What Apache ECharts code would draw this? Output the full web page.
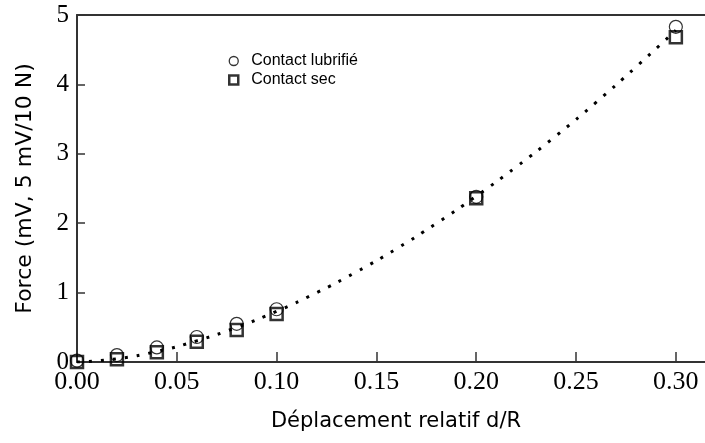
<!DOCTYPE html>
<html>
<head>
<meta charset="utf-8">
<script src="https://cdn.jsdelivr.net/npm/echarts@6/dist/echarts.min.js"></script>
<style>
html,body{margin:0;padding:0;background:#fff;}
#chart{width:705px;height:443px;}
</style>
</head>
<body>
<div id="chart"></div>
<script>
// Data
var dispX = [0, 0.02, 0.04, 0.06, 0.08, 0.10, 0.20, 0.30];
var forceLubrifie = [0.02, 0.10, 0.21, 0.36, 0.55, 0.76, 2.38, 4.83];
var forceSec = [0.00, 0.04, 0.14, 0.29, 0.46, 0.69, 2.36, 4.68];
var curveX = [0, 0.02, 0.04, 0.06, 0.08, 0.10, 0.12, 0.14, 0.16, 0.18, 0.20, 0.22, 0.24, 0.26, 0.28, 0.30];
var curveY = [0, 0.047, 0.152, 0.305, 0.499, 0.730, 0.998, 1.299, 1.631, 1.996, 2.39, 2.81, 3.26, 3.74, 4.25, 4.78];
var xTicks = [0, 0.05, 0.10, 0.15, 0.20, 0.25, 0.30];
var yTicks = [0, 1, 2, 3, 4, 5];
var seriesNames = ['Contact lubrifié', 'Contact sec'];
var xName = 'Déplacement relatif d/R';
var yName = 'Force (mV, 5 mV/10 N)';

function pairs(xs, ys){ return xs.map(function(x,i){ return [x, ys[i]]; }); }

var chart = echarts.init(document.getElementById('chart'), null, {renderer:'canvas'});
var axisCol = '#333';
var option = {
  animation: false,
  backgroundColor: '#fff',
  grid: {left: 77, right: 0, top: 15, bottom: 81, containLabel: false},
  legend: {
    orient: 'vertical', left: 228, top: 53, itemGap: 3, padding: 0,
    itemWidth: 9, itemHeight: 9,
    textStyle: {fontFamily: 'Liberation Sans', fontSize: 16, lineHeight: 16, color: '#000', padding: [0, 0, 0, 8]},
    data: [
      {name: seriesNames[0], icon: 'circle', itemStyle: {color: '#fff', borderColor: '#000', borderWidth: 1.3}},
      {name: seriesNames[1], icon: 'rect', itemStyle: {color: '#fff', borderColor: '#000', borderWidth: 2.5}}
    ]
  },
  xAxis: [{
    type: 'value', min: 0, max: 0.3146, interval: 0.05,
    position: 'bottom',
    name: xName, nameLocation: 'middle', nameGap: 49,
    nameTextStyle: {fontFamily: 'DejaVu Sans', fontSize: 21, color: '#000', padding: [0, 0, 0, 10]},
    axisLine: {show: true, lineStyle: {color: axisCol, width: 2}},
    axisTick: {show: true, inside: true, length: 10, lineStyle: {color: axisCol, width: 1.5}, customValues: xTicks},
    axisLabel: {customValues: xTicks, formatter: function(v){ return v.toFixed(2); },
      fontFamily: 'Liberation Serif', fontSize: 26, color: '#000', margin: 7},
    splitLine: {show: false}
  }, {
    type: 'value', min: 0, max: 0.3146, position: 'top',
    axisLine: {show: true, lineStyle: {color: axisCol, width: 2}},
    axisTick: {show: false}, axisLabel: {show: false}, splitLine: {show: false}
  }],
  yAxis: {
    type: 'value', min: 0, max: 5, interval: 1,
    name: yName, nameLocation: 'middle', nameGap: 41, nameRotate: 90,
    nameTextStyle: {fontFamily: 'DejaVu Sans', fontSize: 22, color: '#000'},
    axisLine: {show: true, lineStyle: {color: axisCol, width: 2}},
    axisTick: {show: true, inside: true, length: 8, lineStyle: {color: axisCol, width: 1.5}},
    axisLabel: {fontFamily: 'Liberation Serif', fontSize: 25, color: '#000', margin: 8},
    splitLine: {show: false}
  },
  series: [
    {
      name: 'fit', type: 'line', smooth: true, showSymbol: false, silent: true,
      data: pairs(curveX, curveY),
      lineStyle: {color: '#000', width: 3, type: [3, 9]},
      z: 1
    },
    {
      name: seriesNames[0], type: 'scatter', symbol: 'circle', symbolSize: 13,
      data: pairs(dispX, forceLubrifie),
      itemStyle: {color: 'rgba(0,0,0,0)', borderColor: '#000', borderWidth: 1.2},
      z: 2
    },
    {
      name: seriesNames[1], type: 'scatter', symbol: 'rect', symbolSize: 12,
      data: pairs(dispX, forceSec),
      itemStyle: {color: 'rgba(0,0,0,0)', borderColor: '#000', borderWidth: 2.5},
      z: 3
    }
  ]
};
chart.setOption(option);
</script>
</body>
</html>
